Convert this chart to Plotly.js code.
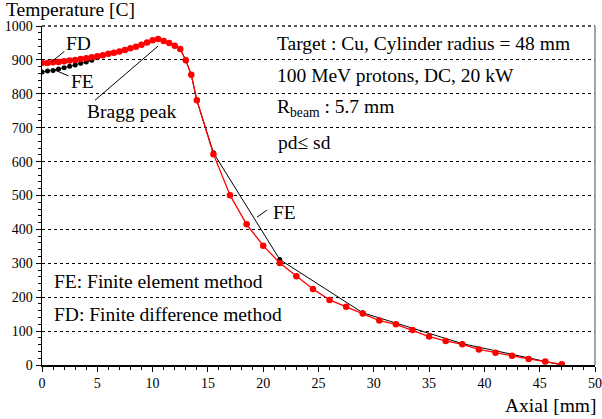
<!DOCTYPE html>
<html>
<head>
<meta charset="utf-8">
<script src="https://cdn.plot.ly/plotly-3.0.1.min.js"></script>
<style>html,body{margin:0;padding:0;background:#fff;}#chart{width:602px;height:419px;}</style>
</head>
<body>
<div id="chart"></div>
<script>
// FD (finite difference) solution
const fdX = [0,0.5,1,1.5,2,2.5,3,3.5,4,4.5,5,5.5,6,6.5,7,7.5,8,8.5,9,9.5,10,10.5,11,11.5,12,12.5,13,13.5,14,
             15.5,17,18.5,20,21.5,23,24.5,26,27.5,29,30.5,32,33.5,35,36.5,38,39.5,41,42.5,44,45.5,47];
const fdT = [891,891,893,894,896,898,900,903,905,908,911,914,918,921,925,929,934,939,945,951,958,962,956,950,942,932,899,856,781,
             622,501,415,352,301,262,224,192,172,152,131,120,103,84,71,61,46,36,27,18,10,2];
// FE (finite element) solution
const feX = [0,0.5,1,1.5,2,2.5,3,3.5,4,4.5,5,5.5,6,6.5,7,7.5,8,8.5,9,9.5,10,10.5,11,11.5,12,12.5,13,13.5,14,15.5,21.5,29,38,47];
const feT = [864,867,869,873,877,881,885,890,894,899,906,913,918,921,925,929,934,939,945,951,958,962,956,950,942,932,899,856,781,626,311,154,63,0];

const xTicks = [0,5,10,15,20,25,30,35,40,45,50];
const yTicks = [0,100,200,300,400,500,600,700,800,900,1000];

const serif = 'Liberation Serif';
const big = {family: serif, size: 19.5, color: '#000'};

const traces = [
  {x: feX, y: feT, mode: 'lines+markers', type: 'scatter',
   line: {color: '#000', width: 1}, marker: {color: '#000', size: 5}, hoverinfo: 'none'},
  {x: fdX, y: fdT, mode: 'lines+markers', type: 'scatter',
   line: {color: '#ff0000', width: 1.3}, marker: {color: '#ff0000', size: 6.5}, hoverinfo: 'none'}
];

function txt(x, y, text) {
  return {x: x, y: y, xref: 'x', yref: 'y', text: text, showarrow: false,
          xanchor: 'left', yanchor: 'middle', font: big};
}
function seg(x0, y0, x1, y1) {
  return {type: 'line', xref: 'x', yref: 'y', x0: x0, y0: y0, x1: x1, y1: y1,
          line: {color: '#000', width: 1}};
}

const layout = {
  width: 602, height: 419,
  margin: {l: 42, r: 7, t: 26, b: 54},
  paper_bgcolor: '#fff', plot_bgcolor: '#fff',
  showlegend: false,
  font: {family: serif, color: '#000'},
  xaxis: {
    range: [0, 50], tickvals: xTicks, ticktext: xTicks.map(String),
    showgrid: false, zeroline: false,
    showline: true, linecolor: '#000', linewidth: 1.5,
    ticks: 'outside', ticklen: 5, tickwidth: 1, tickcolor: '#000',
    minor: {dtick: 1, ticks: 'outside', ticklen: 3, tickwidth: 1, tickcolor: '#000', showgrid: false},
    tickfont: {family: serif, size: 14, color: '#000'}
  },
  yaxis: {
    range: [0, 1000], tickvals: yTicks, ticktext: yTicks.map(String),
    showgrid: true, gridcolor: '#000', griddash: 'dot', gridwidth: 1,
    zeroline: false,
    showline: true, linecolor: '#000', linewidth: 1.5,
    ticks: 'outside', ticklen: 5, tickwidth: 1, tickcolor: '#000',
    minor: {dtick: 20, ticks: 'outside', ticklen: 3, tickwidth: 1, tickcolor: '#000', showgrid: false},
    tickfont: {family: serif, size: 14, color: '#000'}
  },
  shapes: [
    {type: 'line', xref: 'paper', yref: 'paper', x0: 0, x1: 1, y0: 1, y1: 1,
     line: {color: '#555', width: 2, dash: 'dot'}},
    {type: 'line', xref: 'paper', yref: 'paper', x0: 1, x1: 1, y0: 0, y1: 1,
     line: {color: '#888', width: 1.5}},
    seg(0.93, 896, 2.02, 925),
    seg(1.02, 872, 2.38, 853),
    seg(4.79, 781, 10.5, 941),
    seg(19.44, 436, 20.34, 457)
  ],
  annotations: [
    txt(21.07, 949, 'Target : Cu, Cylinder radius = 48 mm'),
    txt(21.07, 855, '100 MeV protons, DC, 20 kW'),
    txt(21.07, 758, 'R<sub>beam</sub> : 5.7 mm'),
    txt(21.2, 655, 'pd\u2264 sd'),
    txt(0.9, 245, 'FE: Finite element method'),
    txt(0.9, 150, 'FD: Finite difference method'),
    txt(2.0, 947, 'FD'),
    txt(2.45, 837, 'FE'),
    txt(3.9, 749, 'Bragg peak'),
    txt(20.7, 451, 'FE'),
    {x: (4 - 42) / 553, y: (365 - 9) / 339, xref: 'paper', yref: 'paper', text: 'Temperature [C]', showarrow: false,
     xanchor: 'left', yanchor: 'middle', font: big},
    {x: 1, y: 0, xref: 'paper', yref: 'paper', yshift: -40, xshift: 4, text: 'Axial [mm]', showarrow: false,
     xanchor: 'right', yanchor: 'middle', font: big}
  ]
};

Plotly.newPlot('chart', traces, layout, {staticPlot: true, displayModeBar: false});
</script>
</body>
</html>
